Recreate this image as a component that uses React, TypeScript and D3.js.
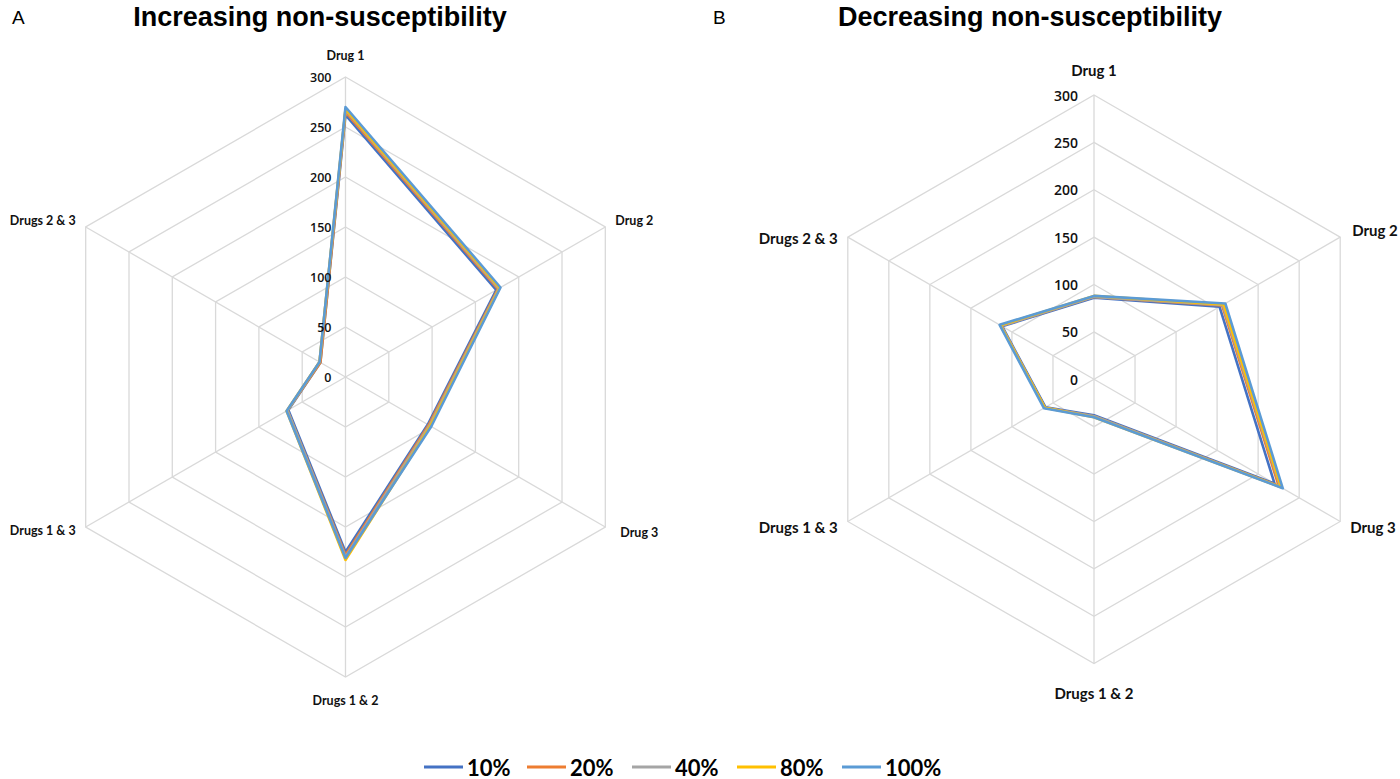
import React from "react";
import * as d3 from "d3";

const categories = ["Drug 1", "Drug 2", "Drug 3", "Drugs 1 & 2", "Drugs 1 & 3", "Drugs 2 & 3"];
const seriesNames = ["10%", "20%", "40%", "80%", "100%"];
const seriesColors = ["#4472C4", "#ED7D31", "#A5A5A5", "#FFC000", "#5B9BD5"];
const tickValues = [0, 50, 100, 150, 200, 250, 300];

// Panel A: Increasing non-susceptibility
const incr10 = [262, 174, 95, 175, 66, 29];
const incr20 = [265, 176, 96, 178, 67, 29];
const incr40 = [267, 177, 97, 180, 67, 30];
const incr80 = [268, 178, 98, 183, 68, 30];
const incr100 = [270, 179, 99, 181, 68, 30];

// Panel B: Decreasing non-susceptibility
const decr10 = [86, 153, 220, 38, 59, 112];
const decr20 = [87, 156, 225, 39, 60, 113];
const decr40 = [87, 157, 227, 39, 60, 113];
const decr80 = [88, 158, 228, 40, 60, 114];
const decr100 = [88, 160, 230, 40, 61, 115];

const incrSeries = [incr10, incr20, incr40, incr80, incr100];
const decrSeries = [decr10, decr20, decr40, decr80, decr100];

type RadarProps = {
  cx: number;
  cy: number;
  radius: number;
  data: number[][];
  labelSize: number;
  tickSize: number;
  labelOffsets: { dx: number; dy: number; anchor: string }[];
  tickDx: number;
};

function Radar({ cx, cy, radius, data, labelSize, tickSize, labelOffsets, tickDx }: RadarProps) {
  const r = d3.scaleLinear().domain([0, 300]).range([0, radius]);
  const n = categories.length;
  const angle = (i: number) => (i * 2 * Math.PI) / n;
  const pt = (i: number, v: number): [number, number] => [
    cx + r(v) * Math.sin(angle(i)),
    cy - r(v) * Math.cos(angle(i)),
  ];
  const line = d3.line<[number, number]>().curve(d3.curveLinearClosed);
  const gridLevels = tickValues.slice(1);
  return (
    <g>
      {gridLevels.map((t) => (
        <path
          key={"g" + t}
          d={line(categories.map((_, i) => pt(i, t))) || ""}
          fill="none"
          stroke="#D9D9D9"
          strokeWidth={1.3}
        />
      ))}
      {categories.map((_, i) => {
        const [x, y] = pt(i, 300);
        return <line key={"s" + i} x1={cx} y1={cy} x2={x} y2={y} stroke="#D9D9D9" strokeWidth={1.3} />;
      })}
      {data.map((vals, si) => (
        <path
          key={"p" + si}
          d={line(vals.map((v, i) => pt(i, v))) || ""}
          fill="none"
          stroke={seriesColors[si]}
          strokeWidth={2.6}
          strokeLinejoin="round"
        />
      ))}
      {tickValues.map((t) => (
        <text
          key={"t" + t}
          x={cx + tickDx}
          y={cy - r(t)}
          textAnchor="end"
          dominantBaseline="central"
          fontFamily="'Open Sans', Lato, sans-serif"
          fontWeight={600}
          fontSize={tickSize}
          fill="#111"
        >
          {t}
        </text>
      ))}
      {categories.map((c, i) => {
        const [x, y] = pt(i, 300);
        const o = labelOffsets[i];
        return (
          <text
            key={"c" + i}
            x={x + o.dx}
            y={y + o.dy}
            textAnchor={o.anchor as any}
            dominantBaseline="central"
            fontFamily="Lato, 'Open Sans', sans-serif"
            fontWeight="bold"
            fontSize={labelSize}
            fill="#111"
          >
            {c}
          </text>
        );
      })}
    </g>
  );
}

export default function App() {
  const leftOffsets = [
    { dx: 0, dy: -22, anchor: "middle" },
    { dx: 10, dy: -7, anchor: "start" },
    { dx: 15, dy: 5, anchor: "start" },
    { dx: 0, dy: 23, anchor: "middle" },
    { dx: -10, dy: 3, anchor: "end" },
    { dx: -10, dy: -7, anchor: "end" },
  ];
  const rightOffsets = [
    { dx: 0, dy: -25, anchor: "middle" },
    { dx: 12, dy: -7, anchor: "start" },
    { dx: 10, dy: 6, anchor: "start" },
    { dx: 0, dy: 29, anchor: "middle" },
    { dx: -10, dy: 6, anchor: "end" },
    { dx: -10, dy: 1, anchor: "end" },
  ];
  const legendX = [424, 527, 632, 737, 842];
  return (
    <svg
      width={1400}
      height={779}
      style={{ position: "absolute", left: 0, top: 0, background: "#fff" }}
    >
      <rect width={1400} height={779} fill="#fff" />
      <text x={12} y={24} fontFamily="'Liberation Sans', Arial, sans-serif" fontSize={19} fill="#000">
        A
      </text>
      <text
        x={320}
        y={26}
        textAnchor="middle"
        fontFamily="'Liberation Sans', Arial, sans-serif"
        fontWeight="bold"
        fontSize={27}
        fill="#000"
      >
        Increasing non-susceptibility
      </text>
      <text x={713} y={24} fontFamily="'Liberation Sans', Arial, sans-serif" fontSize={19} fill="#000">
        B
      </text>
      <text
        x={1030}
        y={26}
        textAnchor="middle"
        fontFamily="'Liberation Sans', Arial, sans-serif"
        fontWeight="bold"
        fontSize={27}
        fill="#000"
      >
        Decreasing non-susceptibility
      </text>
      <Radar
        cx={345.5}
        cy={377}
        radius={300}
        data={incrSeries}
        labelSize={12.5}
        tickSize={12.5}
        labelOffsets={leftOffsets}
        tickDx={-14}
      />
      <Radar
        cx={1094}
        cy={379.3}
        radius={284.3}
        data={decrSeries}
        labelSize={15}
        tickSize={14}
        labelOffsets={rightOffsets}
        tickDx={-16}
      />
      {seriesNames.map((s, i) => (
        <g key={s}>
          <line
            x1={legendX[i]}
            x2={legendX[i] + 39}
            y1={767}
            y2={767}
            stroke={seriesColors[i]}
            strokeWidth={2.8}
          />
          <text
            x={legendX[i] + 43}
            y={767}
            dominantBaseline="central"
            fontFamily="Lato, 'Open Sans', sans-serif"
            fontWeight="bold"
            fontSize={22}
            fill="#000"
          >
            {s}
          </text>
        </g>
      ))}
    </svg>
  );
}
